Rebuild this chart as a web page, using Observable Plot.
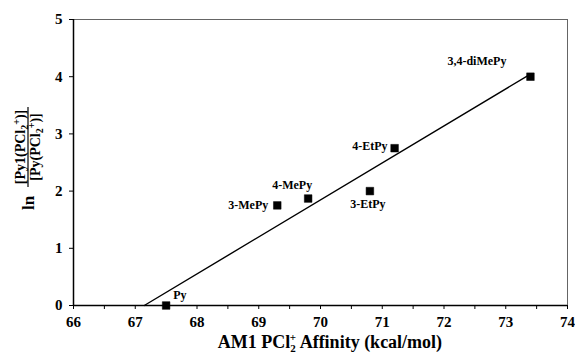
<!DOCTYPE html>
<html>
<head>
<meta charset="utf-8">
<script src="https://cdn.jsdelivr.net/npm/d3@7"></script>
<script src="https://cdn.jsdelivr.net/npm/@observablehq/plot@0.6"></script>
<style>
  html, body { margin: 0; padding: 0; background: #fff; }
  #chart svg { display: block; }
  #chart svg text { font-weight: bold; font-family: 'Liberation Serif', 'DejaVu Serif', serif; }
</style>
</head>
<body>
<div id="chart"></div>
<script>
// Data
const compounds = ["Py", "3-MePy", "4-MePy", "3-EtPy", "4-EtPy", "3,4-diMePy"];
const affinity  = [67.5, 69.3, 69.8, 70.8, 71.2, 73.4];   // AM1 PCl2+ affinity (kcal/mol)
const lnRatio   = [0.0, 1.75, 1.87, 2.0, 2.75, 4.0];
const xTicks = [66, 67, 68, 69, 70, 71, 72, 73, 74];
const xMinorTicks = [66, 66.5, 67, 67.5, 68, 68.5, 69, 69.5, 70, 70.5, 71, 71.5, 72, 72.5, 73, 73.5, 74];
const yTicks = [0, 1, 2, 3, 4, 5];

const points = compounds.map((c, i) => ({name: c, x: affinity[i], y: lnRatio[i]}));

// least-squares fit, drawn from its x-intercept to the largest x
const mx = d3.mean(affinity), my = d3.mean(lnRatio);
const sxy = d3.sum(affinity, (x, i) => (x - mx) * (lnRatio[i] - my));
const sxx = d3.sum(affinity, x => (x - mx) ** 2);
const slope = sxy / sxx, icpt = my - slope * mx;
const x0 = -icpt / slope, x1 = d3.max(affinity);
const fit = [{x: x0, y: 0}, {x: x1, y: slope * x1 + icpt}];

// label placement (style only)
const place = {
  "Py":         {dx: 7,   dy: -10, anchor: "start"},
  "3-MePy":     {dx: -9,  dy: 0,   anchor: "end"},
  "4-MePy":     {dx: -16, dy: -13, anchor: "middle"},
  "3-EtPy":     {dx: -2,  dy: 13,  anchor: "middle"},
  "4-EtPy":     {dx: -7,  dy: -2,  anchor: "end"},
  "3,4-diMePy": {dx: -24, dy: -16, anchor: "end"}
};
const labelMarks = Object.entries(place).map(([name, p]) =>
  Plot.text(points.filter(d => d.name === name), {
    x: "x", y: "y", text: "name", dx: p.dx, dy: p.dy, textAnchor: p.anchor,
    fontSize: 12, fontWeight: "bold", fill: "#000"
  })
);

const font = "'Liberation Serif', 'DejaVu Serif', serif";
const W = 575, H = 359, mL = 73, mR = 8, mT = 19, mB = 54;

const chart = Plot.plot({
  width: W,
  height: H,
  marginLeft: mL,
  marginRight: mR,
  marginTop: mT,
  marginBottom: mB,
  style: {fontFamily: font, fontSize: "15px", fontWeight: "bold", color: "#000", background: "#fff"},
  x: {domain: [66, 74], label: null},
  y: {domain: [0, 5], label: null},
  marks: [
    Plot.frame({stroke: "#555", strokeWidth: 0.9}),
    Plot.axisX(xMinorTicks, {tickSize: 4, text: null, stroke: "#000"}),
    Plot.axisX(xTicks, {tickSize: 0, tickPadding: 11, fontSize: 15, fontWeight: "bold", tickFormat: "d"}),
    Plot.axisY(yTicks, {tickSize: 4, tickPadding: 7, fontSize: 15, fontWeight: "bold", tickFormat: "d", stroke: "#000"}),
    Plot.ruleY([0], {stroke: "#000", strokeWidth: 1.5}),
    Plot.ruleX([66], {stroke: "#000", strokeWidth: 1.5}),
    Plot.line(fit, {x: "x", y: "y", stroke: "#000", strokeWidth: 1.4}),
    Plot.dot(points, {x: "x", y: "y", symbol: "square", r: 4.3, fill: "#000", stroke: "#000", strokeWidth: 0.5}),
    ...labelMarks
  ]
});

document.getElementById("chart").appendChild(chart);

// axis titles with stacked sub/superscripts
const svg = d3.select(chart);

// x-axis title
const xt = svg.append("text")
  .attr("x", mL + (W - mL - mR) / 2 + 10)
  .attr("y", 348)
  .attr("text-anchor", "middle")
  .style("font-family", font).style("font-weight", "bold").style("font-size", "18px").attr("fill", "#000");
xt.append("tspan").text("AM1 PCl");
const xs = xt.append("tspan").attr("font-size", "11px");
xs.append("tspan").attr("dy", 4).text("2");
xs.append("tspan").attr("dx", -6).attr("dy", -11).text("+");
xt.append("tspan").attr("dy", 7).text(" Affinity (kcal/mol)");

// y-axis title: ln [Py1(PCl2+)] / [Py(PCl2+)]
const g = svg.append("g")
  .attr("transform", `translate(28,147) rotate(-90)`)
  .style("font-family", font).style("font-weight", "bold").attr("fill", "#000");
g.append("text").attr("x", -56).attr("y", 6).attr("text-anchor", "middle")
  .style("font-size", "17px").text("ln");
function frac(y, main) {
  const t = g.append("text").attr("x", 0).attr("y", y).attr("text-anchor", "middle").style("font-size", "14px");
  t.append("tspan").text(main);
  t.append("tspan").attr("font-size", "10px").attr("dy", 3).text("2");
  t.append("tspan").attr("font-size", "10px").attr("dy", -8).text("+");
  t.append("tspan").attr("dy", 5).text(")]");
  return t;
}
frac(-3, "[Py1(PCl");
frac(12, "[Py(PCl");
g.append("line").attr("x1", -40).attr("x2", 40).attr("y1", 0).attr("y2", 0)
  .attr("stroke", "#000").attr("stroke-width", 1.2);
</script>
</body>
</html>
